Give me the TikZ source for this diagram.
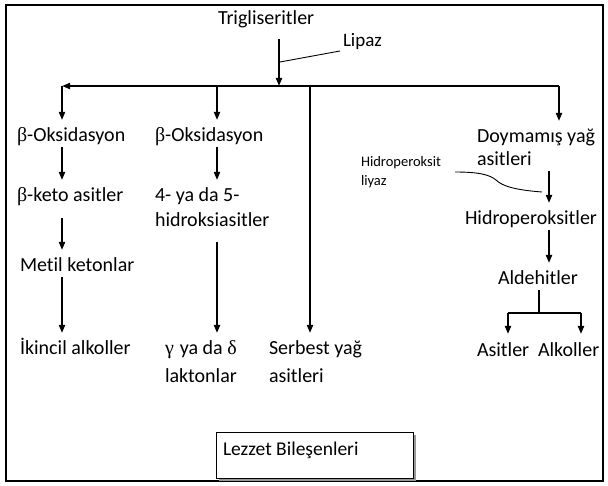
\documentclass[tikz,border=0pt]{standalone}
\usepackage{fontspec}
\setmainfont{Carlito}[Ligatures=NoCommon]
\newfontfamily\grk{Liberation Serif}
\usetikzlibrary{arrows.meta,shadows}
\newcommand{\fs}{\fontsize{20}{24}\selectfont}
\newcommand{\fsm}{\fontsize{14.5}{17}\selectfont}
\begin{document}
\begin{tikzpicture}[x=1pt,y=-1pt,
  lbl/.style={anchor=base west, inner sep=0pt, outer sep=0pt, text height=22pt, text depth=5pt, font=\fs},
  small/.style={anchor=base west, inner sep=0pt, outer sep=0pt, font=\fsm},
  arr/.style={line width=1.8pt, -{Triangle[length=8pt,width=6pt]}},
  ln/.style={line width=1.8pt},
  thinln/.style={line width=0.9pt},
  frame/.style={line width=2.5pt}]
\useasboundingbox (0,0) rectangle (608,486);
\draw[frame] (6,5) rectangle (603,481);

% texts
\node[lbl] (trig) at (218,25) {Trigliseritler};
\node[small, font=\fontsize{19}{22}\selectfont] (lipaz) at (343,47) {Lipaz};
\node[lbl] (b1) at (17,142) {{\grk β}-Oksidasyon};
\node[lbl] (k1) at (17,202) {{\grk β}-keto asitler};
\node[lbl] (m1) at (20,272) {Metil ketonlar};
\node[lbl] (i1) at (20,355) {İkincil alkoller};
\node[lbl] (b2) at (155,142) {{\grk β}-Oksidasyon};
\node[lbl] (h2a) at (155,202) {4- ya da 5-};
\node[lbl] (h2b) at (155,227) {hidroksiasitler};
\node[lbl] (g2a) at (165,355) {{\grk γ}\hspace{6pt}ya da {\grk δ}};
\node[lbl] (g2b) at (165,382) {laktonlar};
\node[lbl] (s3a) at (269,355) {Serbest yağ};
\node[lbl] (s3b) at (269,382) {asitleri};
\node[lbl] (d4a) at (477,143) {Doymamış yağ};
\node[lbl] (d4b) at (477,166) {asitleri};
\node[small] (hla) at (361,167) {Hidroperoksit};
\node[small] (hlb) at (361,186) {liyaz};
\node[lbl] (hp) at (465,225) {Hidroperoksitler};
\node[lbl] (al) at (498,285) {Aldehitler};
\node[lbl] (as) at (477,356) {Asitler};
\node[lbl] (alk) at (538,356) {Alkoller};

% junctions
\coordinate (top) at (279,39);
\coordinate (j0) at (279,86);
\coordinate (jl) at (62,86);
\coordinate (c2) at (217,86);
\coordinate (c3) at (310,86);
\coordinate (jr) at (559,86);
\coordinate (lp) at (280,62);
\coordinate (lq) at (340,51);
\coordinate (x4) at (549,0);
\coordinate (bx) at (539,313);
\coordinate (bl) at (508,313);
\coordinate (br) at (581,313);

% main
\draw[arr] (top) -- (j0);
\draw[thinln] (lp) -- (lq);
\draw[arr] (j0) -- (jl);
\draw[ln] (j0) -- (jr);
\draw[arr] (jl) -- (jl |- b1.north);
\draw[arr] (c2) -- (c2 |- b2.north);
\draw[arr] (c3) -- (c3 |- s3a.north);
\draw[arr] (jr) -- (jr |- d4a.north);

% column 1
\draw[arr] (jl |- b1.south) -- (jl |- k1.north);
\draw[arr, shorten <=11pt] (jl |- k1.south) -- (jl |- m1.north);
\draw[arr] (jl |- m1.south) -- (jl |- i1.north);

% column 2
\draw[arr] (c2 |- b2.south) -- (c2 |- h2a.north);
\draw[arr, shorten <=10pt] (c2 |- h2b.south) -- (c2 |- g2a.north);

% column 4
\draw[arr] (x4 |- d4b.south) -- (x4 |- hp.north);
\draw[thinln] (455,172) .. controls (480,172) and (490,175) .. (496,180)
  .. controls (502,186) and (515,190) .. (542,192);
\draw[arr] (x4 |- hp.south) -- (x4 |- al.north);
\draw[ln] (bx |- al.south) -- (bx);
\draw[ln] (bl) -- (br);
\draw[arr] (bl) -- (bl |- as.north);
\draw[arr] (br) -- (br |- alk.north);

% box
\node[draw, line width=1pt, fill=white, minimum width=197pt, minimum height=46pt,
  anchor=north west, inner sep=0pt,
  drop shadow={shadow xshift=2pt, shadow yshift=-2pt, fill=gray!80, opacity=1}] (box) at (216,432) {};
\node[lbl, font=\fontsize{19.5}{23}\selectfont] (lez) at (223,455) {Lezzet Bileşenleri};
\end{tikzpicture}
\end{document}
